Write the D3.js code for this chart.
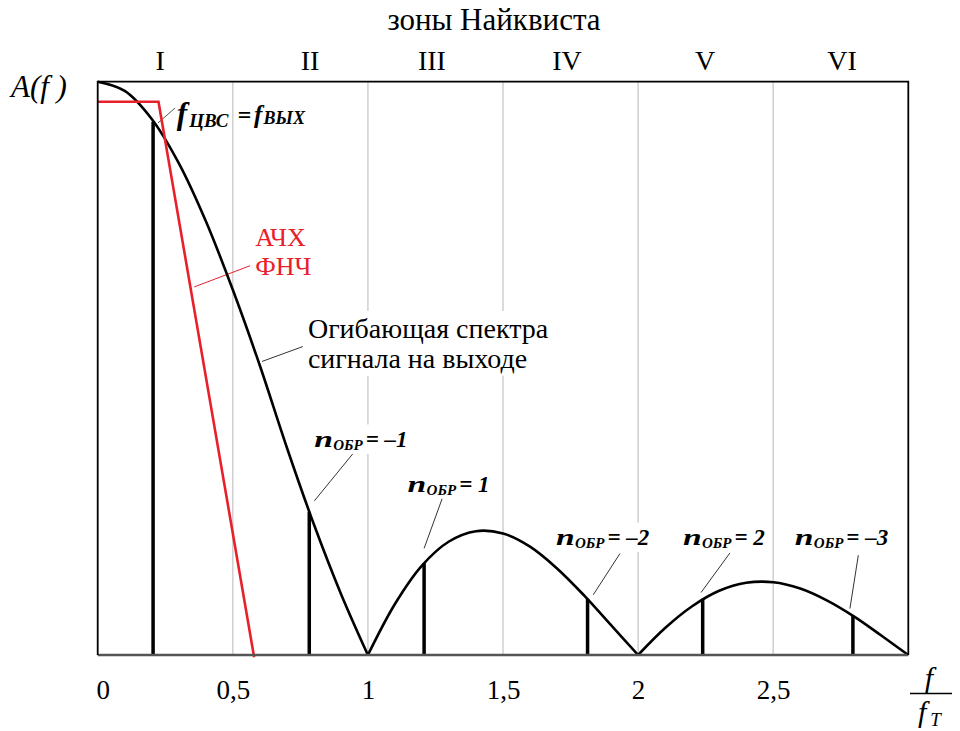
<!DOCTYPE html>
<html>
<head>
<meta charset="utf-8">
<script src="https://cdn.jsdelivr.net/npm/d3@7/dist/d3.min.js"></script>
<style>
  html, body { margin: 0; padding: 0; background: #fff; }
  svg { display: block; }
  text { font-family: "Liberation Serif", "Times New Roman", serif; }
</style>
</head>
<body>
<svg id="chart" width="960" height="731"></svg>
<script>
// Envelope of the output spectrum, A(f), vs normalised frequency f/fT (three lobes)
const lobe1F = [0, 0.1, 0.2, 0.3, 0.4, 0.5, 0.6, 0.7, 0.8, 0.9, 1.0];
const lobe1A = [1.0, 0.984, 0.935, 0.858, 0.757, 0.637, 0.505, 0.362, 0.228, 0.107, 0];
const lobe2F = [1.0, 1.1, 1.2, 1.3, 1.4, 1.5, 1.6, 1.7, 1.8, 1.9, 2.0];
const lobe2A = [0, 0.089, 0.156, 0.198, 0.216, 0.212, 0.189, 0.151, 0.104, 0.052, 0];
const lobe3F = [2.0, 2.1, 2.2, 2.3, 2.4, 2.5, 2.6, 2.7, 2.8, 2.9, 3.0];
const lobe3A = [0, 0.047, 0.085, 0.112, 0.126, 0.127, 0.116, 0.095, 0.067, 0.034, 0];

// Spectral lines: fundamental (f_ЦВС) and images n_ОБР = -1, 1, -2, 2, -3
const lineF = [0.205, 0.783, 1.208, 1.813, 2.239, 2.795];
const lineA = [0.930, 0.250, 0.160, 0.098, 0.098, 0.068];

// Low-pass filter frequency response (АЧХ ФНЧ)
const lpfF = [0, 0.225, 0.579];
const lpfA = [0.965, 0.965, -0.004];

// Axis ticks
const tickValues = [0, 0.5, 1, 1.5, 2, 2.5];
const tickLabels = ["0", "0,5", "1", "1,5", "2", "2,5"];
const gridValues = [0.5, 1, 1.5, 2, 2.5];

// Nyquist zones
const zoneNames = ["I", "II", "III", "IV", "V", "VI"];
const zoneF = [0.231, 0.786, 1.237, 1.737, 2.248, 2.755];

// Image labels n_ОБР
const imgSuffix = ["= \u20131", "= 1", "= \u20132", "= 2", "= \u20133"];
const imgLabelF = [0.801, 1.147, 1.696, 2.166, 2.580];
const imgLabelA = [0.363, 0.285, 0.192, 0.192, 0.192];
const imgLeadF0 = [0.802, 1.208, 1.834, 2.233, 2.784];
const imgLeadA0 = [0.269, 0.186, 0.105, 0.109, 0.081];
const imgLeadF1 = [0.946, 1.275, 1.933, 2.340, 2.815];
const imgLeadA1 = [0.352, 0.273, 0.177, 0.178, 0.174];

const svg = d3.select("#chart");
const x = d3.scaleLinear().domain([0, 3]).range([97.7, 908.3]);
const y = d3.scaleLinear().domain([0, 1]).range([655, 81.7]);

// vertical grid
svg.append("g").selectAll("line").data(gridValues).join("line")
  .attr("x1", d => x(d)).attr("x2", d => x(d))
  .attr("y1", y(1)).attr("y2", y(0))
  .attr("stroke", "#cfcfcf").attr("stroke-width", 1.5);

// helper: white backing box behind a caption group
function boxed(g, pad) {
  const bb = g.node().getBBox();
  g.insert("rect", ":first-child")
    .attr("x", bb.x - pad).attr("y", bb.y - pad)
    .attr("width", bb.width + 2 * pad).attr("height", bb.height + 2 * pad)
    .attr("fill", "#fff");
}

// leaders
const lead = svg.append("g");
function leader(f0, a0, f1, a1, color) {
  lead.append("line")
    .attr("x1", x(f0)).attr("y1", y(a0)).attr("x2", x(f1)).attr("y2", y(a1))
    .attr("stroke", color).attr("stroke-width", 1);
}
leader(0.223, 0.928, 0.286, 0.954, "#555");
leader(0.357, 0.642, 0.564, 0.679, "#e8202a");
leader(0.608, 0.512, 0.759, 0.538, "#333");
imgSuffix.forEach((s, i) => leader(imgLeadF0[i], imgLeadA0[i], imgLeadF1[i], imgLeadA1[i], "#333"));

// envelope caption
const env = svg.append("g");
const envT = env.append("text").attr("x", x(0.778)).attr("y", y(0.553)).attr("font-size", 28);
envT.append("tspan").text("Огибающая спектра");
envT.append("tspan").attr("x", x(0.778)).attr("y", y(0.501)).text("сигнала на выходе");
boxed(env, 2);

// filter caption
const lpfCap = svg.append("text").attr("fill", "#e8202a").attr("font-size", 26)
  .attr("x", x(0.583)).attr("y", y(0.713));
lpfCap.append("tspan").text("АЧХ");
lpfCap.append("tspan").attr("x", x(0.583)).attr("y", y(0.663)).text("ФНЧ");

// n_ОБР captions: a widened italic "n" followed by subscript and value
imgSuffix.forEach((s, i) => {
  const g = svg.append("g")
    .attr("transform", `translate(${x(imgLabelF[i])},${y(imgLabelA[i])})`)
    .attr("font-weight", "bold").attr("font-style", "italic");
  g.append("text").attr("transform", "scale(1.4,1)").attr("font-size", 24).text("n");
  const t = g.append("text").attr("x", 19);
  t.append("tspan").attr("font-size", 15).attr("dy", 3).text("ОБР");
  t.append("tspan").attr("font-size", 23).attr("dy", -3).attr("dx", 3).text(s);
  boxed(g, 1);
});

// f_ЦВС = f_ВЫХ caption
const fc = svg.append("text").attr("x", x(0.293)).attr("y", y(0.926))
  .attr("font-weight", "bold").attr("font-style", "italic");
fc.append("tspan").attr("font-size", 31).text("f");
fc.append("tspan").attr("font-size", 19).attr("dy", 3).attr("dx", 2).text("ЦВС");
fc.append("tspan").attr("font-size", 24).attr("dy", -4).attr("dx", 9).text("=");
fc.append("tspan").attr("font-size", 25).attr("dx", 3).text("f");
fc.append("tspan").attr("font-size", 18).attr("dy", 1).attr("dx", 1).text("ВЫХ");

// envelope
const lineGen = d3.line().x(d => x(d[0])).y(d => y(d[1])).curve(d3.curveCatmullRom.alpha(0.5));
[[lobe1F, lobe1A], [lobe2F, lobe2A], [lobe3F, lobe3A]].forEach(([fs, as]) => {
  svg.append("path").datum(d3.zip(fs, as)).attr("d", lineGen)
    .attr("fill", "none").attr("stroke", "#000").attr("stroke-width", 2.6);
});

// spectral lines
svg.append("g").selectAll("line").data(d3.zip(lineF, lineA)).join("line")
  .attr("x1", d => x(d[0])).attr("x2", d => x(d[0]))
  .attr("y1", y(0)).attr("y2", d => y(d[1]))
  .attr("stroke", "#000").attr("stroke-width", 3.5);

// LPF response
svg.append("path").datum(d3.zip(lpfF, lpfA))
  .attr("d", d3.line().x(d => x(d[0])).y(d => y(d[1])))
  .attr("fill", "none").attr("stroke", "#e8202a").attr("stroke-width", 2.6);

// frame
svg.append("line").attr("x1", x(0)).attr("x2", x(3)).attr("y1", y(0)).attr("y2", y(0))
  .attr("stroke", "#555").attr("stroke-width", 2.5);
svg.append("path")
  .attr("d", `M${x(0)},${y(0)}V${y(1)}H${x(3)}V${y(0)}`)
  .attr("fill", "none").attr("stroke", "#000").attr("stroke-width", 1.8);

// x axis labels
const axis = d3.axisBottom(x).tickValues(tickValues).tickSize(0).tickPadding(0)
  .tickFormat((d, i) => tickLabels[i]);
const ax = svg.append("g").attr("transform", `translate(0,${y(0)})`).call(axis);
ax.select(".domain").remove();
ax.attr("font-family", null).attr("font-size", null);
ax.selectAll("text")
  .attr("font-size", 27).attr("fill", "#000").attr("dy", null).attr("y", 44)
  .attr("dx", d => d === 0 ? 5 : 0);

// axis titles
svg.append("text").attr("x", 11).attr("y", 97).attr("font-size", 31).attr("font-style", "italic")
  .text("A(f )");
const frac = svg.append("g").attr("font-style", "italic");
frac.append("text").attr("x", 929).attr("y", 688).attr("text-anchor", "middle").attr("font-size", 30).text("f");
frac.append("line").attr("x1", 910).attr("x2", 952).attr("y1", 693.5).attr("y2", 693.5)
  .attr("stroke", "#000").attr("stroke-width", 1.6);
const den = frac.append("text").attr("x", 918).attr("y", 722).attr("font-size", 30);
den.append("tspan").text("f");
den.append("tspan").attr("font-size", 19).attr("dy", 4).attr("dx", 4).text("T");

// Nyquist zones
svg.append("text").attr("x", 494).attr("y", 30).attr("text-anchor", "middle")
  .attr("font-size", 31).text("зоны Найквиста");
svg.append("g").selectAll("text").data(zoneNames).join("text")
  .attr("x", (d, i) => x(zoneF[i])).attr("y", 70).attr("text-anchor", "middle")
  .attr("font-size", 28).text(d => d);
</script>
</body>
</html>
